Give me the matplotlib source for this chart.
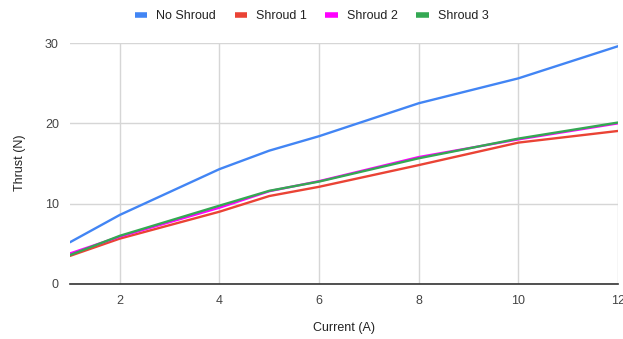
import matplotlib.pyplot as plt

plt.rcParams['font.family'] = ['Liberation Sans', 'DejaVu Sans']

# data
current = [1, 2, 4, 5, 6, 8, 10, 12]
no_shroud = [5.2, 8.6, 14.3, 16.6, 18.4, 22.5, 25.6, 29.6]
shroud_1 = [3.5, 5.65, 9.0, 10.95, 12.1, 14.8, 17.6, 19.05]
shroud_2 = [3.8, 5.9, 9.5, 11.55, 12.8, 15.8, 18.0, 20.0]
shroud_3 = [3.6, 6.0, 9.75, 11.6, 12.75, 15.65, 18.1, 20.1]

series = [
    ('No Shroud', no_shroud, '#4285F4'),
    ('Shroud 1', shroud_1, '#EA4335'),
    ('Shroud 2', shroud_2, '#FF00FF'),
    ('Shroud 3', shroud_3, '#34A853'),
]

fig = plt.figure(figsize=(6.23, 3.39), dpi=100)
ax = fig.add_axes([70 / 623, 1 - 284 / 339, 548 / 623, 241 / 339])

for name, vals, col in series:
    ax.plot(current, vals, color=col, lw=1.7, label=name, solid_capstyle='round')

ax.set_xlim(1, 12)
ax.set_ylim(0, 30)
ax.set_xticks([2, 4, 6, 8, 10, 12])
ax.set_yticks([0, 10, 20, 30])
ax.grid(True, color='#d6d6d6', lw=1)
ax.set_axisbelow(True)
for s in ['top', 'right', 'left']:
    ax.spines[s].set_visible(False)
ax.spines['bottom'].set_color('#333333')
ax.spines['bottom'].set_linewidth(1.2)
ax.tick_params(length=0, labelsize=9, colors='#444444', pad=8)

fig.text(20 / 623, 1 - 163 / 339, 'Thrust (N)', rotation=90, ha='center', va='center',
         fontsize=9, color='#222222')
fig.text(344 / 623, 1 - 328 / 339, 'Current (A)', ha='center', va='center',
         fontsize=9, color='#222222')

leg = fig.legend(loc='center', bbox_to_anchor=(0.5, 1 - 16 / 339), ncol=4, frameon=False,
                 fontsize=9, handlelength=1.0, handletextpad=0.7, columnspacing=1.5)
for h in leg.get_lines():
    h.set_linewidth(4)
    h.set_solid_capstyle('butt')
for t in leg.get_texts():
    t.set_color('#222222')

fig.savefig('out.png', dpi=100)
